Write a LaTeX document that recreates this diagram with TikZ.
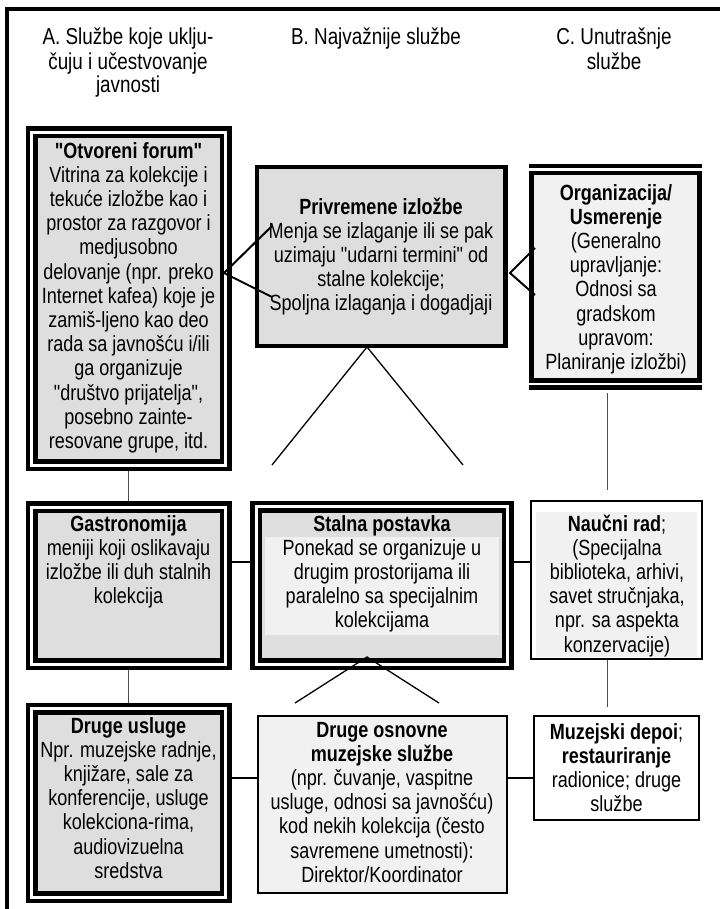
\documentclass[tikz,border=0pt]{standalone}
\usepackage{fontspec}
\setmainfont{Liberation Sans}[FakeStretch=0.82, Ligatures=TeXOff]
\usetikzlibrary{calc}
\pgfdeclarelayer{bg}
\pgfsetlayers{bg,main}
\definecolor{boxgray}{gray}{0.87}
\definecolor{boxlight}{gray}{0.945}
\definecolor{thinline}{gray}{0.3}
\tikzset{
 every node/.style={inner sep=0pt,outer sep=0pt},
 box/.style={anchor=north west, draw, rectangle},
 dblbox/.style={box, line width=4.5pt, double=white, double distance=3pt, fill=boxgray},
 thickbox/.style={box, line width=4.5pt},
 thinbox/.style={box, line width=2pt},
 bgpatch/.style={anchor=north west, rectangle, fill=boxlight},
 txt/.style={anchor=north, align=center, font=\fontsize{22}{24.2}\selectfont},
 hdr/.style={anchor=north, align=center, font=\fontsize{23}{23.5}\selectfont},
 conn/.style={line width=2pt},
 fine/.style={line width=1.3pt},
 vline/.style={line width=1pt, draw=thinline},
}
\begin{document}
\begin{tikzpicture}[x=1pt,y=-1pt]
\useasboundingbox (0,0) rectangle (720,909);
% frame
\draw[line width=4pt] (7,909) -- (7,9.5) -- (720,9.5);
% headers
\node[hdr] (hdrA) at (128,27.5) {\strut A. Službe koje uklju-\\čuju i učestvovanje\\javnosti};
\node[hdr] (hdrB) at (376,27.5) {\strut B. Najvažnije službe};
\node[hdr] (hdrC) at (614,27.5) {\strut C. Unutrašnje\\službe};
% boxes
\node[dblbox, minimum width=194pt, minimum height=332.5pt] (forum) at (31.5,132.5) {};
\node[thickbox, fill=boxgray, minimum width=248.5pt, minimum height=179pt] (priv) at (257,167) {};
\node[thickbox, fill=boxlight, minimum width=168pt, minimum height=207.5pt] (org) at (531.5,173) {};
\draw[line width=4.5pt, line cap=rect] ([yshift=7pt]org.north west) -- ([yshift=7pt]org.north east);
\draw[line width=4.5pt, line cap=rect] ([yshift=-7pt]org.south west) -- ([yshift=-7pt]org.south east);
\node[dblbox, minimum width=194pt, minimum height=157pt] (gastro) at (31.5,507) {};
\node[dblbox, minimum width=251.5pt, minimum height=157.5pt] (stalna) at (256,506.5) {};
\node[bgpatch, minimum width=234pt, minimum height=98pt] (stalnabg) at (265,537) {};
\node[thinbox, fill=white, minimum width=171pt, minimum height=158pt] (naucni) at (531,501) {};
\node[bgpatch, minimum width=161pt, minimum height=145pt] (naucnibg) at (536,512) {};
\node[dblbox, minimum width=194pt, minimum height=188.5pt] (usluge) at (31.5,708.5) {};
\node[thinbox, fill=boxlight, minimum width=249pt, minimum height=177.5pt] (osnovne) at (257.5,715.5) {};
\node[thinbox, fill=white, minimum width=165pt, minimum height=103.5pt] (depoi) at (534,716) {};
% texts
\node[txt] (forumT) at (128.5,141.06) {\strut\textbf{"Otvoreni forum"}\\Vitrina za kolekcije i\\tekuće izložbe kao i\\prostor za razgovor i\\medjusobno\\delovanje (npr. preko\\Internet kafea) koje je\\zamiš-ljeno kao deo\\rada sa javnošću i/ili\\ga organizuje\\"društvo prijatelja",\\posebno zainte-\\resovane grupe, itd.};
\node[txt] (privT) at (381,197.06) {\strut\textbf{Privremene izložbe}\\Menja se izlaganje ili se pak\\uzimaju "udarni termini" od\\stalne kolekcije;\\Spoljna izlaganja i dogadjaji};
\node[txt] (orgT) at (616,183.06) {\strut\textbf{Organizacija/}\\\textbf{Usmerenje}\\(Generalno\\upravljanje:\\Odnosi sa\\gradskom\\upravom:\\Planiranje izložbi)};
\node[txt] (gastroT) at (128.5,514.06) {\strut\textbf{Gastronomija}\\meniji koji oslikavaju\\izložbe ili duh stalnih\\kolekcija};
\node[txt] (stalnaT) at (382,514.06) {\strut\textbf{Stalna postavka}\\Ponekad se organizuje u\\drugim prostorijama ili\\paralelno sa specijalnim\\kolekcijama};
\node[txt] (naucniT) at (617,514.06) {\strut\textbf{Naučni rad};\\(Specijalna\\biblioteka, arhivi,\\savet stručnjaka,\\npr. sa aspekta\\konzervacije)};
\node[txt] (depoiT) at (616.5,722.06) {\strut\textbf{Muzejski depoi};\\\textbf{restauriranje}\\radionice; druge\\službe};
\node[txt] (osnovneT) at (382,720.06) {\strut\textbf{Druge osnovne}\\\textbf{muzejske službe}\\(npr. čuvanje, vaspitne\\usluge, odnosi sa javnošću)\\kod nekih kolekcija (često\\savremene umetnosti):\\Direktor/Koordinator};
\node[txt] (uslugeT) at (128.5,716.06) {\strut\textbf{Druge usluge}\\Npr. muzejske radnje,\\knjižare, sale za\\konferencije, usluge\\kolekciona-rima,\\audiovizuelna\\sredstva};
% connectors on top
\coordinate (fv) at (224,273);
\coordinate (pm1) at (272,226);
\coordinate (pm2) at (272,297);
\draw[conn] (pm1) -- (fv) -- (pm2);
\coordinate (pv) at (510,273);
\coordinate (ov1) at (535,248);
\coordinate (ov2) at (535,295);
\draw[conn] (ov1) -- (pv) -- (ov2);
\coordinate (pb) at (367,347);
\coordinate (pl) at (272,465);
\coordinate (pr) at (463,465);
\draw[fine] (pl) -- (pb) -- (pr);
\coordinate (sb) at (367,657);
\coordinate (sl) at (295,703);
\coordinate (sr) at (439,703);
\draw[fine] (sl) -- (sb) -- (sr);
\coordinate (on1) at (607,393);
\coordinate (on2) at (607,490);
\draw[vline] (on1) -- (on2);
% connectors behind
\coordinate (h1) at (0,562);
\coordinate (h2) at (0,778);
\coordinate (nm) at (607,707);
\begin{pgfonlayer}{bg}
\draw[vline] (forum.south) -- (gastro.north);
\draw[vline] (gastro.south) -- (usluge.north);
\draw[conn] (gastro.east |- h1) -- (stalna.west |- h1);
\draw[conn] (stalna.east |- h1) -- (naucni.west |- h1);
\draw[conn] (usluge.east |- h2) -- (osnovne.west |- h2);
\draw[conn] (osnovne.east |- h2) -- (depoi.west |- h2);
\draw[vline] (naucni.south -| nm) -- (nm);
\end{pgfonlayer}
\end{tikzpicture}
\end{document}
